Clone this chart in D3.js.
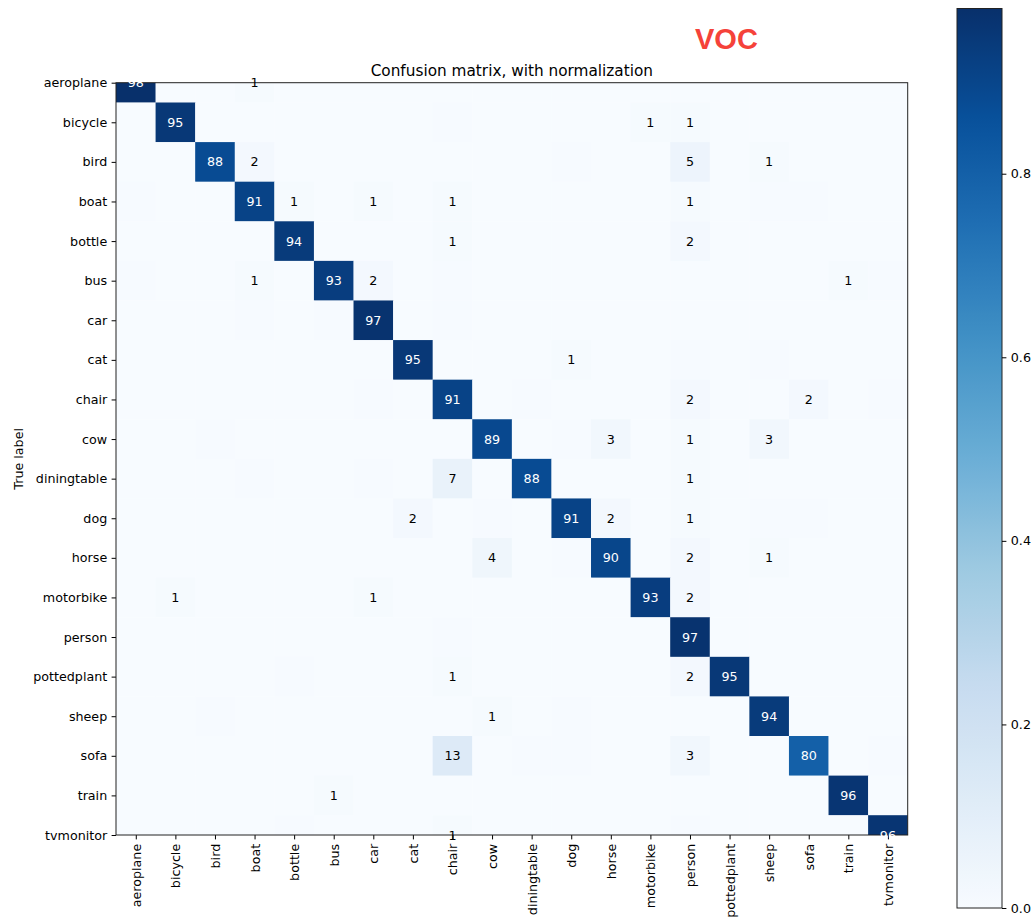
<!DOCTYPE html>
<html>
<head>
<meta charset="utf-8">
<script src="https://cdn.jsdelivr.net/npm/d3@7"></script>
<style>
  html, body { margin: 0; padding: 0; background: #fff; }
  svg { display: block; font-family: "DejaVu Sans", sans-serif; }
</style>
</head>
<body>
<svg id="chart" width="1034" height="919"></svg>
<script>
// Class names (true label rows / predicted label columns)
const categories = ["aeroplane", "bicycle", "bird", "boat", "bottle", "bus", "car", "cat",
  "chair", "cow", "diningtable", "dog", "horse", "motorbike", "person", "pottedplant",
  "sheep", "sofa", "train", "tvmonitor"];

// Row-normalised confusion matrix, in percent (row = true label, column = predicted label)
const confusionPercent = [
  /* aeroplane   */ [98, 0, 0, 1, 0, 0, 0, 0, 0, 0, 0, 0, 0, 0, 0, 0, 0, 0, 0, 0],
  /* bicycle     */ [0, 95, 0, 0, 0, 0, 0, 0, 0.5, 0, 0, 0, 0, 1, 1, 0, 0, 0, 0, 0],
  /* bird        */ [0, 0, 88, 2, 0, 0, 0, 0, 0, 0, 0, 0.5, 0, 0, 5, 0, 1, 0, 0, 0],
  /* boat        */ [0.5, 0, 0, 91, 1, 0, 1, 0, 1, 0, 0, 0, 0, 0, 1, 0, 0.5, 0.5, 0, 0],
  /* bottle      */ [0, 0, 0, 0, 94, 0, 0, 0, 1, 0, 0, 0, 0, 0, 2, 0, 0, 0, 0, 0],
  /* bus         */ [0.5, 0, 0, 1, 0, 93, 2, 0, 0.5, 0, 0, 0, 0, 0, 0, 0, 0, 0, 1, 0.5],
  /* car         */ [0, 0, 0, 0.5, 0, 0.5, 97, 0, 0.5, 0, 0, 0, 0, 0, 0, 0, 0, 0, 0, 0],
  /* cat         */ [0, 0, 0, 0, 0, 0, 0, 95, 0, 0, 0, 1, 0, 0, 0.5, 0, 0.5, 0, 0, 0],
  /* chair       */ [0, 0, 0, 0, 0, 0, 0.5, 0, 91, 0, 0.5, 0, 0, 0, 2, 0, 0, 2, 0, 0.5],
  /* cow         */ [0, 0, 0.5, 0, 0, 0, 0, 0, 0, 89, 0, 0.5, 3, 0, 1, 0, 3, 0, 0, 0],
  /* diningtable */ [0, 0, 0, 0.5, 0, 0, 0.5, 0, 7, 0, 88, 0, 0, 0, 1, 0, 0, 0, 0, 0],
  /* dog         */ [0, 0, 0, 0, 0, 0, 0, 2, 0, 0.5, 0, 91, 2, 0, 1, 0, 0.5, 0.5, 0, 0],
  /* horse       */ [0, 0, 0, 0, 0, 0, 0, 0, 0, 4, 0, 0.5, 90, 0, 2, 0, 1, 0, 0, 0],
  /* motorbike   */ [0, 1, 0, 0, 0, 0, 1, 0, 0, 0, 0, 0, 0, 93, 2, 0, 0, 0, 0, 0],
  /* person      */ [0, 0, 0, 0, 0, 0, 0, 0, 0.5, 0, 0, 0, 0, 0, 97, 0, 0, 0, 0, 0],
  /* pottedplant */ [0, 0, 0, 0, 0.5, 0, 0, 0, 1, 0, 0, 0, 0, 0, 2, 95, 0, 0, 0, 0],
  /* sheep       */ [0, 0, 0.5, 0, 0, 0, 0, 0, 0, 1, 0, 0.5, 0, 0, 0, 0, 94, 0, 0, 0],
  /* sofa        */ [0, 0, 0, 0, 0, 0, 0, 0, 13, 0, 0.5, 0.5, 0, 0, 3, 0, 0, 80, 0, 0.5],
  /* train       */ [0, 0, 0, 0, 0, 1, 0, 0, 0, 0, 0, 0, 0, 0, 0, 0, 0, 0, 96, 0],
  /* tvmonitor   */ [0, 0, 0, 0, 0.5, 0, 0, 0, 1, 0, 0, 0, 0, 0, 0.5, 0, 0, 0, 0, 96]
];

// Colour bar tick values
const colorbarTicks = [0.0, 0.2, 0.4, 0.6, 0.8];

// ColorBrewer "Blues" stops, linearly interpolated
const bluesStops = ["#f7fbff", "#deebf7", "#c6dbef", "#9ecae1", "#6baed6",
  "#4292c6", "#2171b5", "#08519c", "#08306b"];

const titleText = "Confusion matrix, with normalization";
const yLabelText = "True label";
const badgeText = "VOC";

// ---- drawing ----
const svg = d3.select("#chart");
const FONT = 12.7;

const cells = [];
confusionPercent.forEach((row, r) => row.forEach((v, c) => cells.push({ r, c, pct: v, v: v / 100 })));
const vmax = d3.max(cells, d => d.v);
const vmin = d3.min(cells, d => d.v);

const color = d3.scaleLinear()
  .domain(bluesStops.map((_, i) => vmin + (vmax - vmin) * i / (bluesStops.length - 1)))
  .range(bluesStops)
  .interpolate(d3.interpolateRgb)
  .clamp(true);

const plot = { left: 116, right: 907.7, top: 82.7, bottom: 835 };
const x = d3.scaleLinear().domain([-0.5, categories.length - 0.5]).range([plot.left, plot.right]);
const y = d3.scaleLinear().domain([0, categories.length - 1]).range([plot.top, plot.bottom]);

svg.append("rect").attr("width", 1034).attr("height", 919).attr("fill", "#fff");

svg.append("defs").append("clipPath").attr("id", "plotClip")
  .append("rect")
  .attr("x", plot.left).attr("y", plot.top)
  .attr("width", plot.right - plot.left).attr("height", plot.bottom - plot.top);

// Heatmap cells
svg.append("g").attr("clip-path", "url(#plotClip)")
  .selectAll("rect").data(cells).join("rect")
  .attr("x", d => x(d.c - 0.5))
  .attr("y", d => y(d.r - 0.5))
  .attr("width", d => x(d.c + 0.5) - x(d.c - 0.5) + 0.3)
  .attr("height", d => y(d.r + 0.5) - y(d.r - 0.5) + 0.3)
  .attr("fill", d => color(d.v));

// Axis ticks and labels
const tickLen = 4.4, tickPad = 4.4;
const yAxis = svg.append("g").attr("transform", `translate(${plot.left},0)`)
  .call(d3.axisLeft(y).tickValues(d3.range(categories.length))
    .tickFormat(i => categories[i]).tickSize(tickLen).tickPadding(tickPad));
yAxis.select(".domain").remove();
yAxis.selectAll("text").attr("font-size", FONT).attr("font-family", "DejaVu Sans").attr("fill", "#000");
yAxis.selectAll("line").attr("stroke", "#000");

const xAxis = svg.append("g").attr("transform", `translate(0,${plot.bottom})`)
  .call(d3.axisBottom(x).tickValues(d3.range(categories.length))
    .tickFormat(i => categories[i]).tickSize(tickLen).tickPadding(tickPad));
xAxis.select(".domain").remove();
xAxis.selectAll("line").attr("stroke", "#000");
xAxis.selectAll("text")
  .attr("font-size", FONT).attr("font-family", "DejaVu Sans").attr("fill", "#000")
  .attr("transform", "rotate(-90)")
  .attr("text-anchor", "end")
  .attr("x", -(tickLen + tickPad))
  .attr("y", 0)
  .attr("dy", "0.35em");

// Plot frame
svg.append("rect")
  .attr("x", plot.left).attr("y", plot.top)
  .attr("width", plot.right - plot.left).attr("height", plot.bottom - plot.top)
  .attr("fill", "none").attr("stroke", "#222").attr("stroke-width", 1);

// Cell value labels: whole percentages, shown when at least 1%
const thresh = vmax / 2;
svg.append("g").selectAll("text")
  .data(cells.filter(d => Math.floor(d.pct) >= 1))
  .join("text")
  .attr("x", d => x(d.c))
  .attr("y", d => y(d.r) + 4.6)
  .attr("text-anchor", "middle")
  .attr("font-size", FONT)
  .attr("fill", d => d.v > thresh ? "#fff" : "#000")
  .text(d => Math.floor(d.pct));

// Title
svg.append("text")
  .attr("x", (plot.left + plot.right) / 2).attr("y", 76)
  .attr("text-anchor", "middle").attr("font-size", 15.3).attr("fill", "#000")
  .text(titleText);

// Y axis label
svg.append("text")
  .attr("transform", `translate(22.5,${(plot.top + plot.bottom) / 2}) rotate(-90)`)
  .attr("text-anchor", "middle").attr("font-size", FONT).attr("fill", "#000")
  .text(yLabelText);

// Red badge
svg.append("text")
  .attr("x", 695).attr("y", 48.5)
  .attr("font-family", "'Liberation Sans', Arial, sans-serif")
  .attr("font-weight", "bold").attr("font-size", 29).attr("fill", "#f5423a")
  .text(badgeText);

// Colour bar
const cb = { left: 957, right: 1002, top: 8.5, bottom: 908 };
const cbScale = d3.scaleLinear().domain([vmin, vmax]).range([cb.bottom, cb.top]);
const grad = svg.select("defs").append("linearGradient")
  .attr("id", "cbGrad").attr("x1", 0).attr("y1", 1).attr("x2", 0).attr("y2", 0);
d3.range(0, 1.0001, 0.02).forEach(t => {
  grad.append("stop").attr("offset", t).attr("stop-color", color(vmin + t * (vmax - vmin)));
});
svg.append("rect")
  .attr("x", cb.left).attr("y", cb.top)
  .attr("width", cb.right - cb.left).attr("height", cb.bottom - cb.top)
  .attr("fill", "url(#cbGrad)").attr("stroke", "#222").attr("stroke-width", 1);

const cbAxis = svg.append("g").attr("transform", `translate(${cb.right},0)`)
  .call(d3.axisRight(cbScale).tickValues(colorbarTicks).tickFormat(d3.format(".1f"))
    .tickSize(tickLen).tickPadding(tickPad));
cbAxis.select(".domain").remove();
cbAxis.selectAll("line").attr("stroke", "#000");
cbAxis.selectAll("text").attr("font-size", FONT).attr("font-family", "DejaVu Sans").attr("fill", "#000");
</script>
</body>
</html>
